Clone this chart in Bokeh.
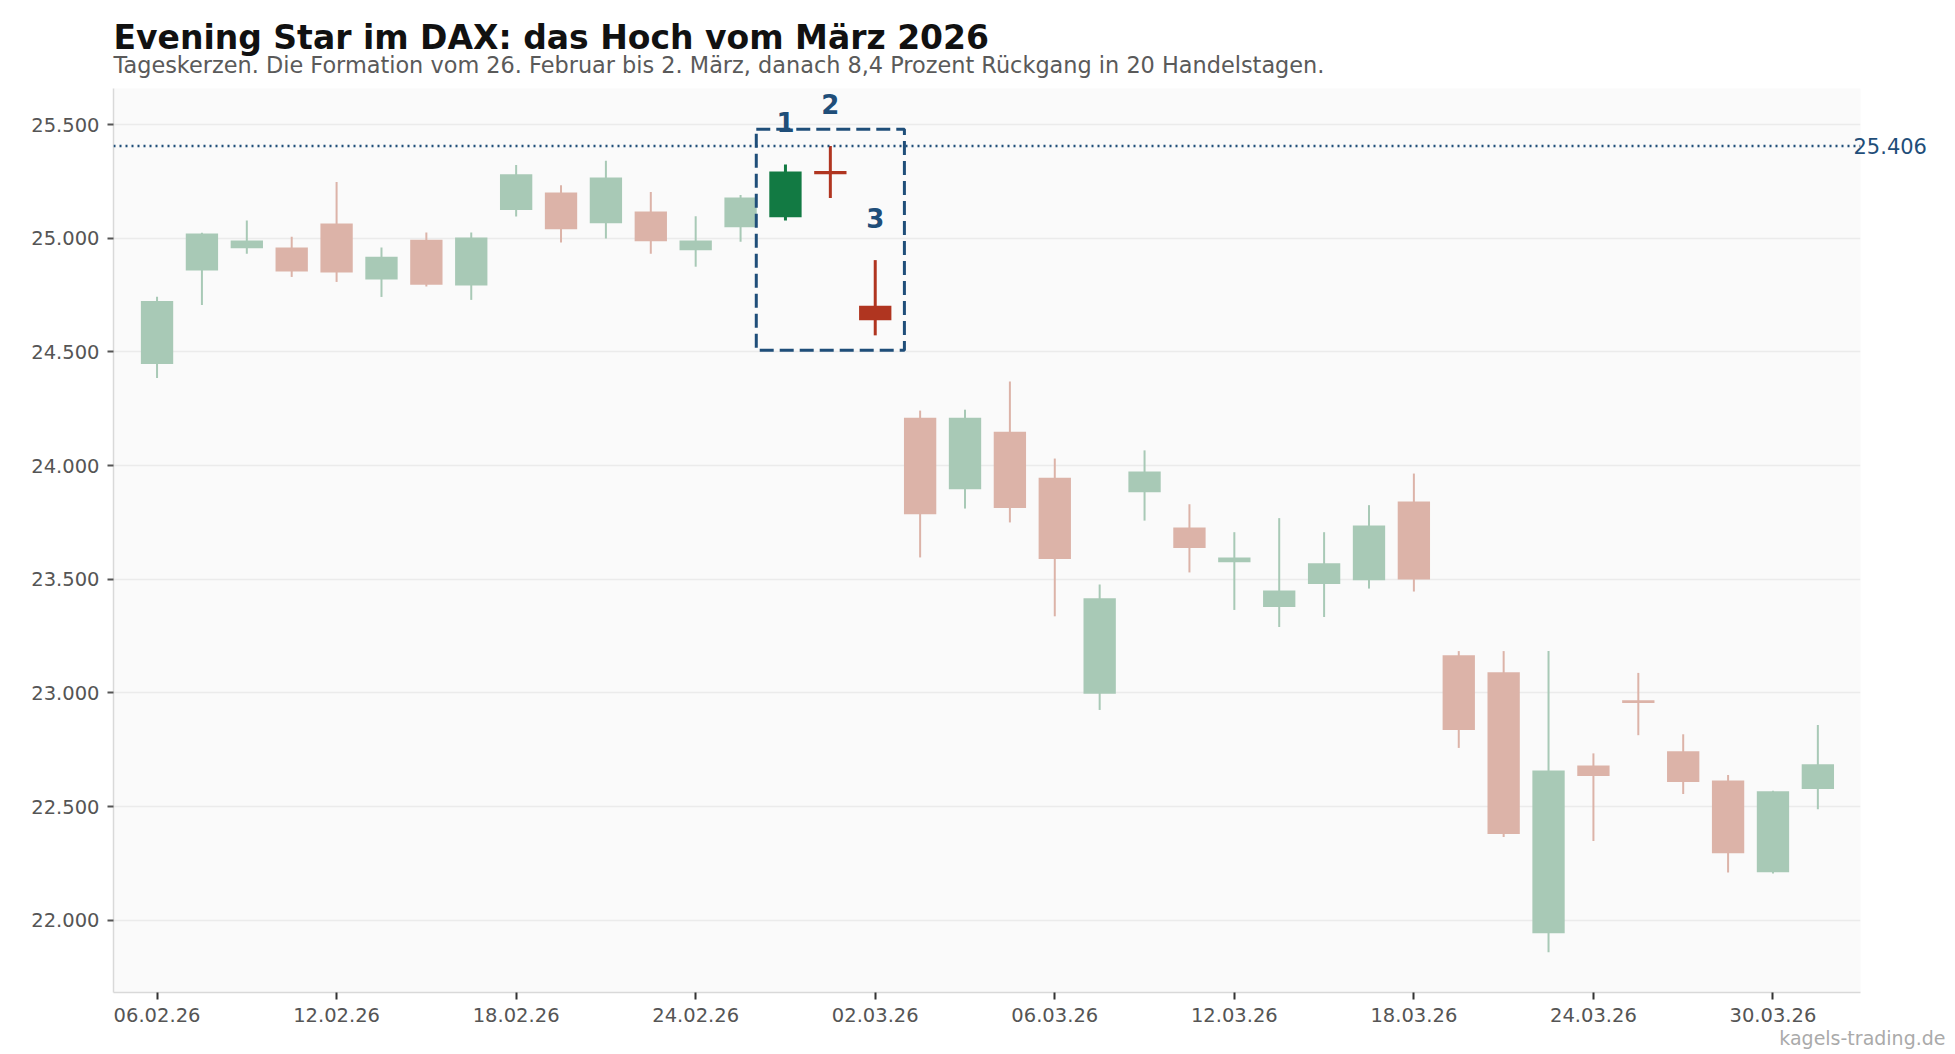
from bokeh.plotting import figure
from bokeh.models import (ColumnDataSource, FixedTicker, Span, LabelSet, Title,
                          BoxAnnotation, Range1d, LinearAxis)
from bokeh.core.properties import value
from bokeh.embed import file_html
from bokeh.resources import INLINE

# ---------------- data ----------------
dates = ["06.02.26", "09.02.26", "10.02.26", "11.02.26", "12.02.26", "13.02.26",
         "16.02.26", "17.02.26", "18.02.26", "19.02.26", "20.02.26", "23.02.26",
         "24.02.26", "25.02.26", "26.02.26", "27.02.26", "02.03.26", "03.03.26",
         "04.03.26", "05.03.26", "06.03.26", "09.03.26", "10.03.26", "11.03.26",
         "12.03.26", "13.03.26", "16.03.26", "17.03.26", "18.03.26", "19.03.26",
         "20.03.26", "23.03.26", "24.03.26", "25.03.26", "26.03.26", "27.03.26",
         "30.03.26", "31.03.26"]
opens = [24447, 24858, 24956, 24959, 25065, 24819, 24994, 24792, 25124, 25202,
         25066, 25118, 24947, 25049, 25093, 25296, 24703, 24211, 23896, 24149,
         23947, 22996, 23883, 23728, 23575, 23378, 23479, 23496, 23842, 23166,
         23091, 21943, 22681, 22968, 22743, 22615, 22211, 22577]
highs = [24743, 25024, 25078, 25007, 25248, 24959, 25025, 25025, 25323, 25233,
         25341, 25204, 25097, 25190, 25325, 25406, 24904, 24242, 24246, 24370,
         24031, 23477, 24067, 23830, 23707, 23769, 23707, 23826, 23965, 23184,
         23184, 23184, 22734, 23088, 22818, 22639, 22570, 22859]
lows = [24385, 24706, 24932, 24830, 24808, 24742, 24788, 24729, 25096, 24981,
        24999, 24932, 24875, 24985, 25078, 25177, 24573, 23596, 23811, 23750,
        23337, 22925, 23758, 23530, 23365, 23290, 23334, 23459, 23446, 22758,
        22366, 21859, 22348, 22814, 22555, 22210, 22206, 22488]
closes = [24724, 25021, 24990, 24854, 24850, 24919, 24796, 25003, 25282, 25040,
          25268, 24987, 24990, 25180, 25294, 25282, 24640, 23786, 24211, 23813,
          23589, 23416, 23974, 23637, 23596, 23451, 23570, 23736, 23499, 22837,
          22379, 22659, 22634, 22956, 22608, 22295, 22567, 22686]

pattern_idx = [14, 15, 16]
pattern_labels = ["1", "2", "3"]
resistance = 25406
y_ticks = [22000, 22500, 23000, 23500, 24000, 24500, 25000, 25500]
x_tick_step = 4

title_text = "Evening Star im DAX: das Hoch vom März 2026"
subtitle_text = ("Tageskerzen. Die Formation vom 26. Februar bis 2. März, "
                 "danach 8,4 Prozent Rückgang in 20 Handelstagen.")
watermark_text = "kagels-trading.de"

# ---------------- style ----------------
FONT = "DejaVu Sans"
UP_FADE, DOWN_FADE = "#a8c9b6", "#dcb3a8"
UP, DOWN = "#127a43", "#b03520"
BLUE = "#1f4e79"


def de_num(v):
    return f"{v:,}".replace(",", ".")


n = len(dates)
xs = list(range(n))
colors, widths = [], []
for i in xs:
    up = closes[i] >= opens[i]
    if i in pattern_idx:
        colors.append(UP if up else DOWN)
        widths.append(3)
    else:
        colors.append(UP_FADE if up else DOWN_FADE)
        widths.append(2)

src = ColumnDataSource(dict(
    x=xs, open=opens, high=highs, low=lows, close=closes,
    top=[max(o, c) for o, c in zip(opens, closes)],
    bottom=[min(o, c) for o, c in zip(opens, closes)],
    color=colors, lw=widths,
))

x_start, x_end = -0.97, n - 0.05
y_start, y_end = 21682, 25659

p = figure(width=1950, height=1050,
           x_range=Range1d(x_start, x_end), y_range=Range1d(y_start, y_end),
           output_backend="svg", toolbar_location=None,
           min_border_left=113, min_border_right=90,
           min_border_top=88, min_border_bottom=58,
           background_fill_color="#fafafa", border_fill_color="white",
           outline_line_color=None)

p.segment(x0="x", y0="low", x1="x", y1="high", line_color="color",
          line_width="lw", source=src)
p.vbar(x="x", width=0.72, top="top", bottom="bottom", fill_color="color",
       line_color=None, source=src)

# resistance line
p.add_layout(Span(location=resistance, dimension="width", line_color=BLUE,
                  line_width=2.5, line_dash="2 4"))
raxis = LinearAxis(ticker=FixedTicker(ticks=[resistance]),
                   major_label_overrides={resistance: de_num(resistance)})
raxis.axis_line_color = None
raxis.major_tick_line_color = None
raxis.minor_tick_line_color = None
raxis.major_tick_out = 0
raxis.major_tick_in = 0
raxis.major_label_standoff = -7
raxis.major_label_text_font = FONT
raxis.major_label_text_font_size = "21px"
raxis.major_label_text_color = BLUE
p.add_layout(raxis, "right")

# formation box
pl = [lows[i] for i in pattern_idx]
ph = [highs[i] for i in pattern_idx]
p.add_layout(BoxAnnotation(left=min(pattern_idx) - 0.65, right=max(pattern_idx) + 0.65,
                           bottom=min(pl) - 66, top=max(ph) + 74,
                           fill_alpha=0, line_color=BLUE, line_alpha=1,
                           line_width=3, line_dash="14 6"))

lab_src = ColumnDataSource(dict(x=pattern_idx, y=[highs[i] for i in pattern_idx],
                                t=pattern_labels))
p.add_layout(LabelSet(x="x", y="y", text="t", source=lab_src, y_offset=32,
                      text_font=value(FONT), text_font_size=value("26px"),
                      text_font_style="bold", text_color=BLUE,
                      text_align="center", text_baseline="alphabetic"))

# titles (subtitle first = closest to the plot)
p.add_layout(Title(text=subtitle_text, align="left", standoff=22,
                   text_font=FONT, text_font_size="22.4px",
                   text_font_style="normal", text_color="#5a5a5a"), "above")
p.add_layout(Title(text=title_text, align="left", standoff=-36,
                   text_font=FONT, text_font_size="33px",
                   text_font_style="bold", text_color="#111111"), "above")
p.add_layout(Title(text=watermark_text, align="right", offset=-85, standoff=0,
                   text_font=FONT, text_font_size="19px",
                   text_font_style="normal", text_color="#aaaaaa"), "below")

# axes
xt = list(range(0, n, x_tick_step))
p.xaxis.ticker = FixedTicker(ticks=xt)
p.xaxis.major_label_overrides = {i: dates[i] for i in xt}
p.yaxis[0].ticker = FixedTicker(ticks=y_ticks)
p.yaxis[0].major_label_overrides = {v: de_num(v) for v in y_ticks}

for ax in (p.xaxis[0], p.yaxis[0]):
    ax.axis_line_color = "#d9d9d9"
    ax.axis_line_width = 1.5
    ax.major_tick_in = 0
    ax.minor_tick_line_color = None
    ax.major_label_text_font = FONT
    ax.major_label_text_font_size = "19.5px"
    ax.major_label_text_color = "#555555"
    ax.major_label_standoff = 8
p.xaxis[0].major_tick_out = 7
p.xaxis[0].major_tick_line_color = "#333333"
p.xaxis[0].major_tick_line_width = 2
p.yaxis[0].major_tick_out = 6
p.yaxis[0].major_tick_line_color = "#555555"
p.yaxis[0].major_tick_line_width = 2

p.xgrid.visible = False
p.ygrid.grid_line_color = "#ebebeb"
p.ygrid.grid_line_width = 1.5

open("out.html", "w").write(file_html(p, INLINE))
